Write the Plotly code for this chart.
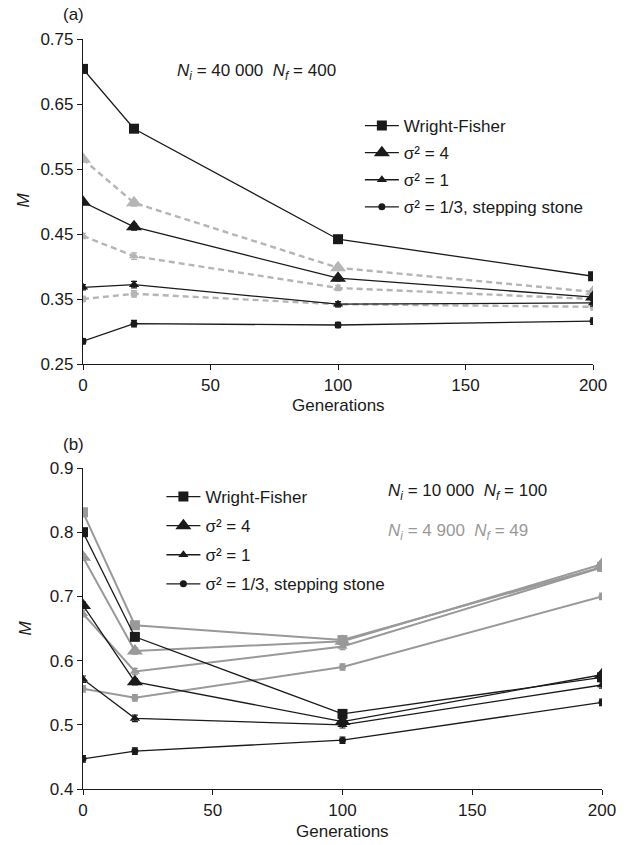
import plotly.graph_objects as go

W, H = 628, 845
gens = [0, 20, 100, 200]
x_ticks = [0, 50, 100, 150, 200]
legend_names = ["Wright-Fisher", "σ² = 4", "σ² = 1", "σ² = 1/3, stepping stone"]

# Panel (a): Ni = 40 000, Nf = 400 (black solid) and grey dashed companions
a_wf = [0.704, 0.612, 0.442, 0.385]
a_s4 = [0.499, 0.461, 0.382, 0.353]
a_s1 = [0.368, 0.372, 0.342, 0.344]
a_s13 = [0.285, 0.312, 0.310, 0.316]
a_grey_s4 = [0.565, 0.498, 0.398, 0.361]
a_grey_s1 = [0.447, 0.416, 0.367, 0.350]
a_grey_s13 = [0.350, 0.358, 0.342, 0.338]
a_err = [0.004, 0.005, 0.004, 0.005]

# Panel (b): Ni = 10 000, Nf = 100 (black) and Ni = 4 900, Nf = 49 (grey)
b_wf = [0.800, 0.637, 0.517, 0.574]
b_s4 = [0.686, 0.567, 0.505, 0.578]
b_s1 = [0.571, 0.510, 0.500, 0.562]
b_s13 = [0.447, 0.459, 0.476, 0.535]
b_grey_wf = [0.831, 0.655, 0.632, 0.746]
b_grey_s4 = [0.761, 0.615, 0.630, 0.750]
b_grey_s1 = [0.673, 0.583, 0.622, 0.745]
b_grey_s13 = [0.556, 0.542, 0.590, 0.700]
b_err = [0.005, 0.005, 0.005, 0.005]

# ---- layout geometry (pixels) ----
L, R = 83, 606
T, B = 39, 789
pw, ph = R - L, B - T


def px(x):
    return (x - L) / pw


def py(y):
    return (B - y) / ph


FONT = "Arial, Liberation Sans, sans-serif"
BLACK = "#1a1a1a"
GREY_A = "#b5b5b5"
GREY_B = "#999999"

fig = go.Figure()

sym = [("square", 10), ("triangle-up", 14), ("triangle-up", 9), ("circle", 7)]


def add(y, xa, ya, color, symbol, size, name=None, legend=None, dash=None, width=1.3, err=None, group=None):
    fig.add_trace(go.Scatter(
        x=gens, y=y, xaxis=xa, yaxis=ya, mode="lines+markers",
        name=name or "", showlegend=name is not None,
        legend=legend, legendgroup=group,
        line=dict(color=color, width=width, dash=dash),
        marker=dict(symbol=symbol, size=size, color=color),
        error_y=dict(type="data", array=err, color=color, thickness=1.2, width=3),
        hoverinfo="skip",
    ))


# panel (a) grey dashed
for ys, (s, sz) in zip([a_grey_s4, a_grey_s1, a_grey_s13], sym[1:]):
    add(ys, "x", "y", GREY_A, s, sz, dash="6px,4px", width=2.4, err=a_err)
# panel (a) black
for i, (ys, (s, sz)) in enumerate(zip([a_wf, a_s4, a_s1, a_s13], sym)):
    add(ys, "x", "y", BLACK, s, sz, name=legend_names[i], legend="legend", err=a_err, group="a%d" % i)

# panel (b) grey
for ys, (s, sz) in zip([b_grey_wf, b_grey_s4, b_grey_s1, b_grey_s13], sym):
    add(ys, "x2", "y2", GREY_B, s, sz, width=2, err=b_err)
# panel (b) black
for i, (ys, (s, sz)) in enumerate(zip([b_wf, b_s4, b_s1, b_s13], sym)):
    add(ys, "x2", "y2", BLACK, s, sz, name=legend_names[i], legend="legend2", err=b_err, group="b%d" % i)

axis_common = dict(
    showgrid=False, zeroline=False, showline=True, linecolor=BLACK, linewidth=1.2,
    ticks="outside", ticklen=5, tickcolor=BLACK, tickwidth=1.2,
    tickfont=dict(family=FONT, size=17, color=BLACK),
)

legend_common = dict(
    bgcolor="rgba(0,0,0,0)", borderwidth=0, traceorder="grouped",
    font=dict(family=FONT, size=17, color=BLACK), itemwidth=34,
    xanchor="left", yanchor="top",
)

fig.update_layout(
    width=W, height=H,
    margin=dict(l=L, r=W - R, t=T, b=H - B, pad=0),
    paper_bgcolor="white", plot_bgcolor="white",
    font=dict(family=FONT, size=17, color=BLACK),
    xaxis=dict(domain=[0, (597 - L) / pw], range=[0, 200], tickvals=x_ticks, anchor="y", **axis_common),
    yaxis=dict(domain=[py(364), 1], range=[0.25, 0.75], tick0=0.25, dtick=0.1, tickformat=".2f", anchor="x", **axis_common),
    xaxis2=dict(domain=[0, 1], range=[0, 200], tickvals=x_ticks, anchor="y2", **axis_common),
    yaxis2=dict(domain=[0, py(468)], range=[0.4, 0.9], dtick=0.1, tickformat=".1f", anchor="x2", **axis_common),
    legend=dict(x=px(362), y=py(108), tracegroupgap=2, **legend_common),
    legend2=dict(x=px(162), y=py(479), tracegroupgap=4, **legend_common),
    showlegend=True,
)

ann = []


def text(x, y, s, size=17, color=BLACK, xanchor="center", angle=0):
    ann.append(dict(x=px(x), y=py(y), xref="paper", yref="paper", text=s, showarrow=False,
                    xanchor=xanchor, yanchor="middle", textangle=angle,
                    font=dict(family=FONT, size=size, color=color)))


NB = "\u00a0"
text(73, 15, "(a)")
text(73, 444, "(b)")
text(23, 200, "<i>M</i>", angle=-90)
text(25, 628, "<i>M</i>", angle=-90)
text(340, 406, "Generations")
text(344, 832, "Generations")
text(176, 72, "<i>N<sub>i</sub></i> = 40" + NB + "000" + NB + NB + "<i>N<sub>f</sub></i> = 400", xanchor="left")
text(388, 492, "<i>N<sub>i</sub></i> = 10" + NB + "000" + NB + NB + "<i>N<sub>f</sub></i> = 100", xanchor="left")
text(388, 532, "<i>N<sub>i</sub></i> = 4" + NB + "900" + NB + NB + "<i>N<sub>f</sub></i> = 49", xanchor="left", color=GREY_B)
fig.update_layout(annotations=ann)

fig.write_html("out.html", config={"displayModeBar": False}, post_script=[
    "document.body.style.margin='0px';document.body.style.padding='0px';"
    "document.documentElement.style.overflow='hidden';"
])
